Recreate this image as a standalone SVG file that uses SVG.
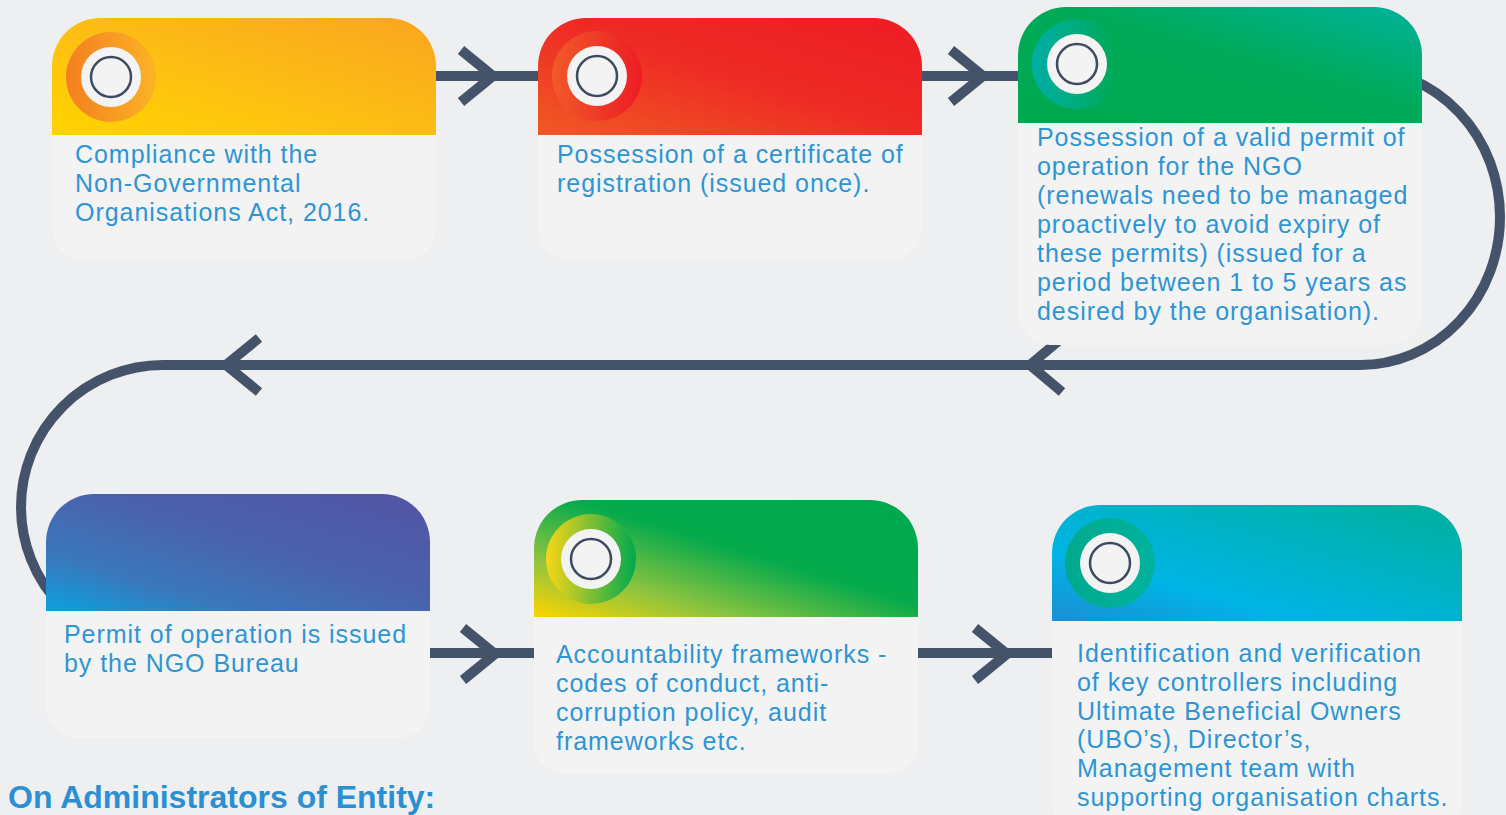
<svg xmlns="http://www.w3.org/2000/svg" width="1506" height="815" viewBox="0 0 1506 815">
<defs>
<style>
.bg{fill:#EEEFF1}
.body{fill:#F3F3F4}
.txt{font-family:"Liberation Sans",Arial,sans-serif;font-size:25px;fill:#2E95D3;letter-spacing:0.95px}
.head{font-family:"Liberation Sans",Arial,sans-serif;font-size:32px;font-weight:bold;fill:#2B8FD1}
.conn{fill:none;stroke:#44536A;stroke-width:10;stroke-linejoin:miter}
.wh{fill:#F3F3F3}
.ic{fill:none;stroke:#3E4A5F;stroke-width:2.5}
</style>
<linearGradient id="h1" x1="0" y1="1" x2="1" y2="0"><stop offset="0" stop-color="#FFD400"/><stop offset="0.5" stop-color="#FDBD14"/><stop offset="1" stop-color="#F9A51F"/></linearGradient>
<linearGradient id="h2" x1="0" y1="1" x2="1" y2="0"><stop offset="0" stop-color="#F15A24"/><stop offset="0.5" stop-color="#EE2B24"/><stop offset="1" stop-color="#ED1C24"/></linearGradient>
<linearGradient id="h3" x1="0" y1="1" x2="1" y2="0"><stop offset="0" stop-color="#00A84F"/><stop offset="0.55" stop-color="#00AA58"/><stop offset="1" stop-color="#00B29C"/></linearGradient>
<linearGradient id="h4" x1="0" y1="1" x2="1" y2="0"><stop offset="0" stop-color="#0AA0DF"/><stop offset="0.25" stop-color="#3A78BB"/><stop offset="0.55" stop-color="#4A62AD"/><stop offset="1" stop-color="#5254A4"/></linearGradient>
<linearGradient id="h5" x1="0" y1="1" x2="1" y2="0"><stop offset="0" stop-color="#FFD400"/><stop offset="0.25" stop-color="#8DC43F"/><stop offset="0.55" stop-color="#05AA4C"/><stop offset="1" stop-color="#00A94F"/></linearGradient>
<linearGradient id="h6" x1="0" y1="1" x2="1" y2="0"><stop offset="0" stop-color="#1A8ED3"/><stop offset="0.3" stop-color="#00B4E6"/><stop offset="1" stop-color="#00B09B"/></linearGradient>
<linearGradient id="r1" x1="0" y1="0" x2="1" y2="0"><stop offset="0" stop-color="#F47F20"/><stop offset="1" stop-color="#FBB325"/></linearGradient>
<linearGradient id="r2" x1="0" y1="0" x2="1" y2="0"><stop offset="0" stop-color="#F15A29"/><stop offset="1" stop-color="#ED1C24"/></linearGradient>
<linearGradient id="r3" x1="0" y1="0" x2="1" y2="0"><stop offset="0" stop-color="#00AEA6"/><stop offset="1" stop-color="#00A94F"/></linearGradient>
<linearGradient id="r5" x1="0" y1="0" x2="1" y2="0"><stop offset="0" stop-color="#F9D616"/><stop offset="1" stop-color="#00A94F"/></linearGradient>
<linearGradient id="r6" x1="0" y1="0" x2="1" y2="0"><stop offset="0" stop-color="#00A98E"/><stop offset="1" stop-color="#00B39E"/></linearGradient>
</defs>
<rect class="bg" x="0" y="0" width="1506" height="815"/>

<g id="connectors">
<path class="conn" d="M436 76 H538"/>
<path class="conn" d="M461 50 L493 76 L461 102"/>
<path class="conn" d="M922 76 H1018"/>
<path class="conn" d="M951 50 L983 76 L951 102"/>
<path class="conn" d="M1360 69 A140 148 0 0 1 1360 365 H163 A142 142 0 0 0 163 649"/>
<path class="conn" d="M1062 338 L1030 365 L1062 392"/>
<path class="conn" d="M259 338 L226 365 L259 392"/>
<path class="conn" d="M430 653 H534"/>
<path class="conn" d="M463 628 L495 654 L463 680"/>
<path class="conn" d="M918 653 H1052"/>
<path class="conn" d="M975 628 L1007 654 L975 680"/>
</g>

<g id="node1">
<path class="body" d="M52 135 V66 A48 48 0 0 1 100 18 H388 A48 48 0 0 1 436 66 V228 A32 32 0 0 1 404 260 H84 A32 32 0 0 1 52 228 Z"/>
<path fill="url(#h1)" d="M52 135 V66 A48 48 0 0 1 100 18 H388 A48 48 0 0 1 436 66 V135 Z"/>
<circle cx="111" cy="77" r="45" fill="url(#r1)"/>
<circle class="wh" cx="111" cy="77" r="30"/>
<circle class="ic" cx="111" cy="77" r="20"/>
<text class="txt" x="75" y="163">Compliance with the</text>
<text class="txt" x="75" y="192">Non-Governmental</text>
<text class="txt" x="75" y="221">Organisations Act, 2016.</text>
</g>

<g id="node2">
<path class="body" d="M538 135 V66 A48 48 0 0 1 586 18 H874 A48 48 0 0 1 922 66 V228 A32 32 0 0 1 890 260 H570 A32 32 0 0 1 538 228 Z"/>
<path fill="url(#h2)" d="M538 135 V66 A48 48 0 0 1 586 18 H874 A48 48 0 0 1 922 66 V135 Z"/>
<circle cx="597" cy="76" r="45" fill="url(#r2)"/>
<circle class="wh" cx="597" cy="76" r="30"/>
<circle class="ic" cx="597" cy="76" r="20"/>
<text class="txt" x="557" y="163">Possession of a certificate of</text>
<text class="txt" x="557" y="192">registration (issued once).</text>
</g>

<g id="node3">
<path class="body" d="M1018 123 V55 A48 48 0 0 1 1066 7 H1374 A48 48 0 0 1 1422 55 V313 A32 32 0 0 1 1390 345 H1050 A32 32 0 0 1 1018 313 Z"/>
<path fill="url(#h3)" d="M1018 123 V55 A48 48 0 0 1 1066 7 H1374 A48 48 0 0 1 1422 55 V123 Z"/>
<circle cx="1077" cy="64" r="45" fill="url(#r3)"/>
<circle class="wh" cx="1077" cy="64" r="30"/>
<circle class="ic" cx="1077" cy="64" r="20"/>
<text class="txt" x="1037" y="146">Possession of a valid permit of</text>
<text class="txt" x="1037" y="175">operation for the NGO</text>
<text class="txt" x="1037" y="204">(renewals need to be managed</text>
<text class="txt" x="1037" y="233">proactively to avoid expiry of</text>
<text class="txt" x="1037" y="262">these permits) (issued for a</text>
<text class="txt" x="1037" y="291">period between 1 to 5 years as</text>
<text class="txt" x="1037" y="320">desired by the organisation).</text>
</g>

<g id="node4">
<path class="body" d="M46 611 V542 A48 48 0 0 1 94 494 H382 A48 48 0 0 1 430 542 V706 A32 32 0 0 1 398 738 H78 A32 32 0 0 1 46 706 Z"/>
<path fill="url(#h4)" d="M46 611 V542 A48 48 0 0 1 94 494 H382 A48 48 0 0 1 430 542 V611 Z"/>
<text class="txt" x="64" y="643">Permit of operation is issued</text>
<text class="txt" x="64" y="672">by the NGO Bureau</text>
</g>

<g id="node5">
<path class="body" d="M534 617 V548 A48 48 0 0 1 582 500 H870 A48 48 0 0 1 918 548 V742 A32 32 0 0 1 886 774 H566 A32 32 0 0 1 534 742 Z"/>
<path fill="url(#h5)" d="M534 617 V548 A48 48 0 0 1 582 500 H870 A48 48 0 0 1 918 548 V617 Z"/>
<circle cx="591" cy="559" r="45" fill="url(#r5)"/>
<circle class="wh" cx="591" cy="559" r="30"/>
<circle class="ic" cx="591" cy="559" r="20"/>
<text class="txt" x="556" y="663">Accountability frameworks -</text>
<text class="txt" x="556" y="692">codes of conduct, anti-</text>
<text class="txt" x="556" y="721">corruption policy, audit</text>
<text class="txt" x="556" y="750">frameworks etc.</text>
</g>

<g id="node6">
<path class="body" d="M1052 621 V553 A48 48 0 0 1 1100 505 H1414 A48 48 0 0 1 1462 553 V803 A32 32 0 0 1 1430 835 H1084 A32 32 0 0 1 1052 803 Z"/>
<path fill="url(#h6)" d="M1052 621 V553 A48 48 0 0 1 1100 505 H1414 A48 48 0 0 1 1462 553 V621 Z"/>
<circle cx="1110" cy="563" r="45" fill="url(#r6)"/>
<circle class="wh" cx="1110" cy="563" r="30"/>
<circle class="ic" cx="1110" cy="563" r="20"/>
<text class="txt" x="1077" y="662">Identification and verification</text>
<text class="txt" x="1077" y="690.8">of key controllers including</text>
<text class="txt" x="1077" y="719.6">Ultimate Beneficial Owners</text>
<text class="txt" x="1077" y="748.4">(UBO’s), Director’s,</text>
<text class="txt" x="1077" y="777.2">Management team with</text>
<text class="txt" x="1077" y="806">supporting organisation charts.</text>
</g>

<g id="title">
<text class="head" x="8" y="808">On Administrators of Entity:</text>
</g>
</svg>
